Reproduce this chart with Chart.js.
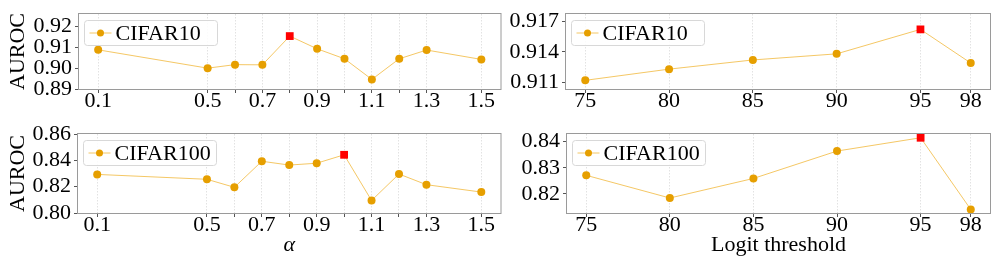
<!DOCTYPE html>
<html lang="en">
<head>
<meta charset="UTF-8">
<title>AUROC sensitivity</title>
<style>
  body { margin: 0; background: #fff; width: 996px; height: 265px; overflow: hidden; position: relative; }
  .panel { position: absolute; }
  #p1 { left: 0; top: 0; width: 506px; height: 120px; }
  #p2 { left: 506px; top: 0; width: 490px; height: 120px; }
  #p3 { left: 0; top: 120px; width: 506px; height: 145px; }
  #p4 { left: 506px; top: 120px; width: 490px; height: 145px; }
</style>
</head>
<body>
<div class="panel" id="p1"><canvas id="c1"></canvas></div>
<div class="panel" id="p2"><canvas id="c2"></canvas></div>
<div class="panel" id="p3"><canvas id="c3"></canvas></div>
<div class="panel" id="p4"><canvas id="c4"></canvas></div>

<script src="https://cdn.jsdelivr.net/npm/chart.js"></script>
<script>
// alpha sweep
const alphas = [0.1, 0.5, 0.6, 0.7, 0.8, 0.9, 1.0, 1.1, 1.2, 1.3, 1.5];
const alphaTickLabels = ['0.1', '0.5', '', '0.7', '', '0.9', '', '1.1', '', '1.3', '1.5'];
const cifar10Alpha = [0.9088, 0.9000, 0.9017, 0.9016, 0.9154, 0.9093, 0.9045, 0.8946, 0.9045, 0.9087, 0.9042];
const cifar100Alpha = [0.8293, 0.8256, 0.8195, 0.8393, 0.8364, 0.8378, 0.8442, 0.8095, 0.8296, 0.8215, 0.8159];

// logit threshold sweep
const thresholds = [75, 80, 85, 90, 95, 98];
const thresholdTickLabels = ['75', '80', '85', '90', '95', '98'];
const cifar10Thr = [0.9112, 0.9123, 0.9132, 0.9138, 0.9162, 0.9129];
const cifar100Thr = [0.8271, 0.8184, 0.8259, 0.8364, 0.8415, 0.8140];

// y tick values
const yTicksC10Alpha = [0.89, 0.90, 0.91, 0.92];
const yTicksC100Alpha = [0.80, 0.82, 0.84, 0.86];
const yTicksC10Thr = [0.911, 0.914, 0.917];
const yTicksC100Thr = [0.82, 0.83, 0.84];

const FONT = "'Liberation Serif', 'Times New Roman', serif";
const DOT = '#e69f00';
const LINE = 'rgba(240, 180, 50, 0.75)';

const frame = {
    id: 'frame',
    afterDraw(chart) {
        const a = chart.chartArea, ctx = chart.ctx;
        ctx.save();
        ctx.strokeStyle = '#9a9a9a';
        ctx.lineWidth = 1;
        ctx.strokeRect(a.left - 0.5, a.top - 0.5, a.right - a.left + 1, a.bottom - a.top + 1);
        ctx.restore();
    }
};

const legendBox = {
    id: 'legendBox',
    afterDatasetsDraw(chart) {
        const a = chart.chartArea, ctx = chart.ctx;
        const label = chart.data.datasets[0].label;
        const x = a.left + 5.5, y = a.top + 6.5, w = 133, h = 25;
        ctx.save();
        ctx.beginPath();
        ctx.roundRect(x, y, w, h, 3);
        ctx.fillStyle = 'rgba(255,255,255,0.85)';
        ctx.fill();
        ctx.strokeStyle = '#d8d8d8';
        ctx.lineWidth = 1;
        ctx.stroke();
        const cy = y + h / 2;
        ctx.strokeStyle = LINE;
        ctx.beginPath();
        ctx.moveTo(x + 5, cy);
        ctx.lineTo(x + 27, cy);
        ctx.stroke();
        ctx.fillStyle = DOT;
        ctx.beginPath();
        ctx.arc(x + 16, cy, 3.5, 0, Math.PI * 2);
        ctx.fill();
        ctx.fillStyle = '#000';
        ctx.font = '22px ' + FONT;
        ctx.textBaseline = 'middle';
        ctx.fillText(label, x + 31, cy + 1);
        ctx.restore();
    }
};

function makePanel(id, cfg) {
    const best = cfg.ys.indexOf(Math.max(...cfg.ys));
    new Chart(document.getElementById(id), {
        type: 'line',
        data: {
            datasets: [{
                label: cfg.label,
                order: 1,
                data: cfg.xs.map((x, i) => ({ x: x, y: cfg.ys[i] })),
                borderColor: LINE,
                borderWidth: 1,
                pointRadius: c => (c.dataIndex === best ? 0 : 4),
                pointBackgroundColor: DOT,
                pointBorderWidth: 0,
                clip: false
            }, {
                label: 'best',
                order: 0,
                data: [{ x: cfg.xs[best], y: cfg.ys[best] }],
                showLine: false,
                pointStyle: 'rect',
                pointRadius: 5.5,
                pointBackgroundColor: '#ff0000',
                pointBorderColor: '#ff0000',
                pointBorderWidth: 0,
                clip: false
            }]
        },
        options: {
            responsive: true,
            maintainAspectRatio: false,
            animation: false,
            devicePixelRatio: 1,
            layout: { padding: { top: cfg.padTop, right: cfg.padRight, left: 0, bottom: 0 } },
            plugins: { legend: { display: false }, tooltip: { enabled: false } },
            scales: {
                x: {
                    type: 'linear',
                    min: cfg.xMin,
                    max: cfg.xMax,
                    afterBuildTicks: s => { s.ticks = cfg.xs.map(v => ({ value: v })); },
                    afterFit: s => { s.height = cfg.xHeight; },
                    ticks: {
                        autoSkip: false, maxRotation: 0, minRotation: 0,
                        padding: -3, color: '#000',
                        font: { family: FONT, size: 22, lineHeight: 1 },
                        callback: (v, i) => cfg.xLabels[i]
                    },
                    grid: { color: '#e2e2e2', lineWidth: 1, tickLength: 4, tickColor: '#555' },
                    border: { display: false, dash: [1.5, 1.5] },
                    title: cfg.xTitle ? {
                        display: true, text: cfg.xTitle, color: '#000',
                        font: { family: FONT, size: 22, lineHeight: 1, style: cfg.xTitleStyle || 'normal' },
                        padding: { top: 0, bottom: 9 }
                    } : { display: false }
                },
                y: {
                    type: 'linear',
                    min: cfg.yMin,
                    max: cfg.yMax,
                    afterBuildTicks: s => { s.ticks = cfg.yTicks.map(v => ({ value: v })); },
                    afterFit: s => { s.width = cfg.yWidth; },
                    ticks: {
                        padding: 3, color: '#000',
                        font: { family: FONT, size: 22, lineHeight: 1 },
                        callback: v => v.toFixed(cfg.yDec)
                    },
                    grid: { drawOnChartArea: false, tickLength: 4, tickColor: '#555' },
                    border: { display: false },
                    title: cfg.yTitle ? {
                        display: true, text: cfg.yTitle, color: '#000',
                        font: { family: FONT, size: 22, lineHeight: 1 },
                        padding: { top: 7.5, bottom: 0 }
                    } : { display: false }
                }
            }
        },
        plugins: [legendBox, frame]
    });
}

function drawAll() {
    makePanel('c1', {
        label: 'CIFAR10', xs: alphas, ys: cifar10Alpha, xLabels: alphaTickLabels,
        xMin: 0.03, xMax: 1.57, yMin: 0.89, yMax: 0.926, yTicks: yTicksC10Alpha, yDec: 2,
        yWidth: 79, xHeight: 31, padTop: 6, padRight: 3, yTitle: 'AUROC'
    });
    makePanel('c2', {
        label: 'CIFAR10', xs: thresholds, ys: cifar10Thr, xLabels: thresholdTickLabels,
        xMin: 73.85, xMax: 99.15, yMin: 0.91035, yMax: 0.91771, yTicks: yTicksC10Thr, yDec: 3,
        yWidth: 60, xHeight: 31, padTop: 6, padRight: 6
    });
    makePanel('c3', {
        label: 'CIFAR100', xs: alphas, ys: cifar100Alpha, xLabels: alphaTickLabels,
        xMin: 0.03, xMax: 1.57, yMin: 0.80, yMax: 0.86, yTicks: yTicksC100Alpha, yDec: 2,
        yWidth: 78, xHeight: 52, padTop: 11, padRight: 5, yTitle: 'AUROC',
        xTitle: 'α', xTitleStyle: 'italic'
    });
    makePanel('c4', {
        label: 'CIFAR100', xs: thresholds, ys: cifar100Thr, xLabels: thresholdTickLabels,
        xMin: 73.85, xMax: 99.15, yMin: 0.81265, yMax: 0.84294, yTicks: yTicksC100Thr, yDec: 2,
        yWidth: 61, xHeight: 52, padTop: 11, padRight: 6,
        xTitle: 'Logit threshold'
    });
}

Promise.all([
    document.fonts.load("22px 'Liberation Serif'"),
    document.fonts.load("italic 22px 'Liberation Serif'")
]).then(drawAll, drawAll);
</script>
</body>
</html>
